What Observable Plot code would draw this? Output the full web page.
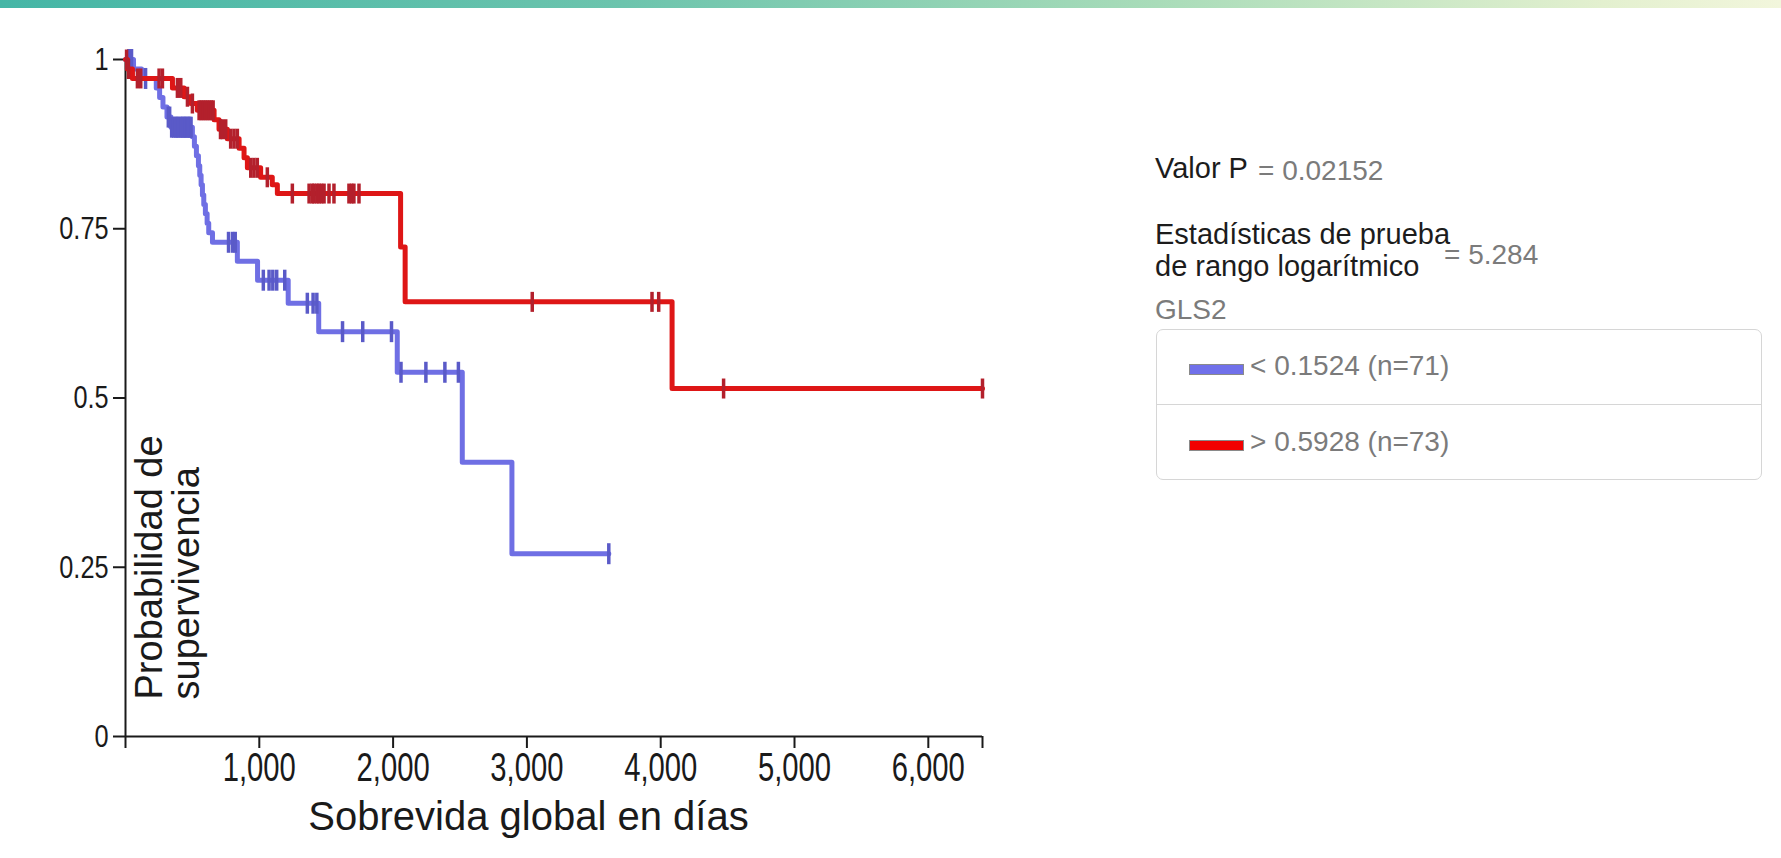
<!DOCTYPE html>
<html>
<head>
<meta charset="utf-8">
<script src="https://cdn.jsdelivr.net/npm/d3@7"></script>
<script src="https://cdn.jsdelivr.net/npm/@observablehq/plot@0.6"></script>
<style>
  html, body { margin: 0; padding: 0; background: #fff; }
  body { width: 1781px; height: 858px; position: relative; overflow: hidden; font-family: "Liberation Sans", Arial, Helvetica, sans-serif; }
  #strip { position: absolute; left: 0; top: 0; width: 1781px; height: 8px;
    background: linear-gradient(to right, #45b6a6 0%, #6cc4ad 35%, #a9dcb9 65%, #e3f0cf 90%, #f2f6dc 100%); }
  #chart { position: absolute; left: 0; top: 0; }
  .t { position: absolute; white-space: nowrap; line-height: 1; }
  .blk { color: #1c1c1c; font-size: 29px; }
  .gry { color: #7b7b7b; font-size: 28px; }
  #box { position: absolute; left: 1156px; top: 329px; width: 606px; height: 151px;
    border: 1.5px solid #d6d6d6; border-radius: 7px; box-sizing: border-box; }
  #divider { position: absolute; left: 1157px; top: 404px; width: 604px; height: 0; border-top: 1.5px solid #d6d6d6; }
  .sw { position: absolute; width: 55px; height: 11px; box-sizing: border-box; border: 1.5px solid #8a8a8a; }
</style>
</head>
<body>
<div id="strip"></div>
<div id="chart"></div>

<div class="t blk" style="left:1155px; top:154px;">Valor P</div>
<div class="t gry" style="left:1258px; top:157px;">= 0.02152</div>
<div class="t blk" style="left:1155px; top:218px; line-height:32px;">Estadísticas de prueba<br>de rango logarítmico</div>
<div class="t gry" style="left:1444px; top:241px;">= 5.284</div>
<div class="t gry" style="left:1155px; top:296px;">GLS2</div>
<div id="box"></div>
<div id="divider"></div>
<div class="sw" id="sw0" style="left:1189px; top:364px;"></div>
<div class="t gry" id="lg0" style="left:1250px; top:352px;"></div>
<div class="sw" id="sw1" style="left:1189px; top:440px;"></div>
<div class="t gry" id="lg1" style="left:1250px; top:428px;"></div>

<script>
// ---------- data ----------
const groupNames = ["< 0.1524 (n=71)", "> 0.5928 (n=73)"];
const groupColors = ["#6f6fe4", "#de1616"];
const censorColors = ["#5a5ac8", "#b3202c"];
const swatchColors = ["#7070ea", "#f20000"];

// low GLS2 group (blue): step times (days) and survival probability
const lowDays = [0, 60, 120, 230, 255, 280, 310, 340, 500, 515, 530, 545, 555, 565, 575, 585, 597, 610, 622, 650, 836, 987, 1216, 1444, 2031, 2517, 2888, 3612];
const lowSurv = [1.0, 0.986, 0.972, 0.958, 0.944, 0.930, 0.915, 0.900, 0.886, 0.872, 0.858, 0.843, 0.829, 0.815, 0.800, 0.786, 0.772, 0.758, 0.744, 0.730, 0.702, 0.674, 0.640, 0.598, 0.538, 0.405, 0.270, 0.270];
const lowCensor = [25, 45, 150, 320, 330, 345, 360, 375, 385, 395, 410, 420, 430, 440, 450, 460, 470, 480, 490, 770, 800, 820, 1030, 1073, 1101, 1130, 1190, 1359, 1402, 1430, 1622, 1773, 1988, 2059, 2245, 2387, 2488, 3612];

// high GLS2 group (red)
const highDays = [0, 15, 52, 351, 438, 488, 537, 662, 699, 761, 849, 886, 911, 1010, 1097, 1135, 2056, 2090, 4085, 6405];
const highSurv = [1.0, 0.986, 0.972, 0.958, 0.945, 0.935, 0.925, 0.911, 0.897, 0.883, 0.869, 0.855, 0.840, 0.826, 0.815, 0.802, 0.723, 0.642, 0.514, 0.514];
const highCensor = [8, 22, 89, 114, 251, 276, 388, 413, 463, 500, 550, 565, 580, 595, 610, 625, 640, 655, 710, 724, 749, 786, 811, 836, 936, 960, 985, 1060, 1247, 1372, 1395, 1409, 1430, 1446, 1465, 1484, 1521, 1558, 1670, 1690, 1707, 1745, 3040, 3935, 3985, 4470, 6405];

const xTicks = [0, 1000, 2000, 3000, 4000, 5000, 6000, 6405];
const yTicks = [0, 0.25, 0.5, 0.75, 1];
const xLabel = "Sobrevida global en días";
const yLabel = "Probabilidad de\nsupervivencia";

// ---------- build tables ----------
function curve(days, surv, g) { return days.map((d, i) => ({day: d, surv: surv[i], group: g})); }
function survAt(days, surv, t) { let s = surv[0]; for (let i = 0; i < days.length; i++) if (days[i] <= t) s = surv[i]; return s; }
function censors(cdays, days, surv, g) { return cdays.map(t => ({day: t, surv: survAt(days, surv, t), group: g})); }

const lowLine = curve(lowDays, lowSurv, groupNames[0]);
const highLine = curve(highDays, highSurv, groupNames[1]);
const lowCens = censors(lowCensor, lowDays, lowSurv, groupNames[0]);
const highCens = censors(highCensor, highDays, highSurv, groupNames[1]);

const vbar = { draw(context, size) { const h = Math.sqrt(size / Math.PI); context.moveTo(0, -h); context.lineTo(0, h); } };
const xEnd = xTicks[xTicks.length - 1];
const fmt = d3.format(",");

const chart = Plot.plot({
  width: 1000,
  height: 858,
  marginLeft: 125,
  marginRight: 18,
  marginTop: 59,
  marginBottom: 122,
  style: { fontFamily: "'Liberation Sans', Arial, sans-serif", color: "#1a1a1a", background: "transparent" },
  x: { domain: [0, xEnd] },
  y: { domain: [0, 1] },
  marks: [
    Plot.axisY({ ticks: yTicks, tickSize: 12, tickPadding: 5, tickFormat: d3.format("~g"), label: null, fontSize: 32, strokeWidth: 2 }),
    Plot.axisX({ ticks: xTicks, tickSize: 12, tickPadding: 4, tickFormat: d => (d === 0 || d === xEnd) ? "" : fmt(d), label: null, fontSize: 40, strokeWidth: 2 }),
    Plot.ruleX([0], { strokeWidth: 2, stroke: "#1a1a1a" }),
    Plot.ruleY([0], { strokeWidth: 2, stroke: "#1a1a1a" }),
    Plot.line(lowLine, { x: "day", y: "surv", curve: "step-after", stroke: groupColors[0], strokeWidth: 5 }),
    Plot.dot(lowCens, { x: "day", y: "surv", symbol: vbar, r: 10.5, stroke: censorColors[0], strokeWidth: 3.5, fill: "none" }),
    Plot.line(highLine, { x: "day", y: "surv", curve: "step-after", stroke: groupColors[1], strokeWidth: 5 }),
    Plot.dot(highCens, { x: "day", y: "surv", symbol: vbar, r: 10, stroke: censorColors[1], strokeWidth: 3.5, fill: "none" }),
    Plot.text([xLabel], { text: d => d, frameAnchor: "bottom-left", dx: 403, dy: 93, textAnchor: "middle", lineAnchor: "bottom", fontSize: 40, fill: "#1a1a1a", ariaLabel: "x-title" }),
    Plot.text([yLabel], { text: d => d, frameAnchor: "bottom-left", dx: 10, dy: -37, rotate: -90, textAnchor: "start", lineAnchor: "top", lineHeight: 0.97, fontSize: 38, fill: "#1a1a1a" })
  ]
});
document.getElementById("chart").appendChild(chart);

// condensed look of the reference's axis lettering
function condense(selector, factor) {
  chart.querySelectorAll(selector).forEach(t => {
    const w = t.getComputedTextLength();
    if (w > 0) { t.setAttribute("textLength", (w * factor).toFixed(1)); t.setAttribute("lengthAdjust", "spacingAndGlyphs"); }
  });
}
condense('g[aria-label="x-axis tick label"] text', 0.73);
condense('g[aria-label="y-axis tick label"] text', 0.79);
condense('g[aria-label="x-title"] text', 0.96);

// legend
[0, 1].forEach(i => {
  document.getElementById("sw" + i).style.background = swatchColors[i];
  document.getElementById("lg" + i).textContent = groupNames[i];
});
</script>
</body>
</html>
